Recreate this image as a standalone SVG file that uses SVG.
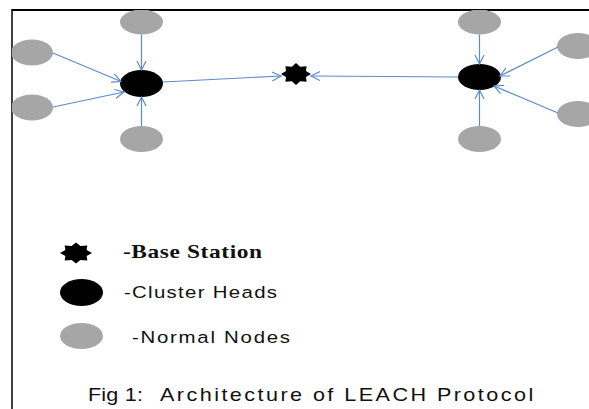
<svg xmlns="http://www.w3.org/2000/svg" xmlns:xlink="http://www.w3.org/1999/xlink" width="589" height="409" viewBox="0 0 589 409">
<style>
.normal{fill:#a6a6a6}
.head{fill:#000}
.edge{stroke:#5b8bcf;stroke-width:1.2;fill:none;marker-end:url(#arr)}
.serif{font-family:"Liberation Serif","Times New Roman",serif;font-weight:bold;font-size:18px;fill:#111}
.sans{font-family:"Liberation Sans",Arial,sans-serif;font-size:17px;fill:#111}
.cap{font-family:"Liberation Sans",Arial,sans-serif;font-size:18px;fill:#111}
</style>
<defs>
<marker id="arr" markerUnits="userSpaceOnUse" markerWidth="12" markerHeight="12" refX="9" refY="5" orient="auto" viewBox="0 0 12 10">
<path d="M0,0.5 L9,5 L0,9.5" fill="none" stroke="#5b8bcf" stroke-width="1.2"/>
</marker>
<polygon id="star" points="0,-1 0.2755,-0.6652 0.7071,-0.7071 0.6652,-0.2755 1,0 0.6652,0.2755 0.7071,0.7071 0.2755,0.6652 0,1 -0.2755,0.6652 -0.7071,0.7071 -0.6652,0.2755 -1,0 -0.6652,-0.2755 -0.7071,-0.7071 -0.2755,-0.6652"/>
<clipPath id="frame"><rect x="12" y="10" width="577" height="399"/></clipPath>
</defs>
<rect width="589" height="409" fill="#fff"/>
<g id="border" stroke="#000">
<line x1="12" y1="10" x2="589" y2="10" stroke-width="2"/>
<line x1="12" y1="9" x2="12" y2="409" stroke-width="1.5"/>
</g>
<g id="nodes" clip-path="url(#frame)">
<g id="n-left-top"><ellipse class="normal" cx="141.5" cy="22" rx="21.5" ry="12.5"/></g>
<g id="n-left-up"><ellipse class="normal" cx="32" cy="52.5" rx="21" ry="13"/></g>
<g id="n-left-low"><ellipse class="normal" cx="32" cy="107.5" rx="21" ry="13"/></g>
<g id="n-left-bottom"><ellipse class="normal" cx="141.5" cy="139" rx="21.5" ry="13"/></g>
<g id="ch-left"><ellipse class="head" cx="141.5" cy="83.5" rx="21.5" ry="13.5"/></g>
<g id="base-station"><use xlink:href="#star" transform="translate(296,74) scale(15,11)" fill="#000"/></g>
<g id="ch-right"><ellipse class="head" cx="479.5" cy="77" rx="21.5" ry="13"/></g>
<g id="n-right-top"><ellipse class="normal" cx="479.5" cy="22" rx="21.5" ry="12.5"/></g>
<g id="n-right-bottom"><ellipse class="normal" cx="479.5" cy="139" rx="21.5" ry="13"/></g>
<g id="n-right-up"><ellipse class="normal" cx="578" cy="46" rx="21" ry="13"/></g>
<g id="n-right-low"><ellipse class="normal" cx="578" cy="114" rx="21" ry="13"/></g>
</g>
<g id="connectors">
<line class="edge" x1="141.5" y1="34.5" x2="141.5" y2="70"/>
<line class="edge" x1="141.5" y1="126" x2="141.5" y2="97"/>
<line class="edge" x1="53" y1="53" x2="121" y2="81.5"/>
<line class="edge" x1="53" y1="107" x2="124" y2="92"/>
<line class="edge" x1="163" y1="82" x2="281" y2="76"/>
<line class="edge" x1="458" y1="77" x2="311" y2="76"/>
<line class="edge" x1="479.5" y1="34.5" x2="479.5" y2="64"/>
<line class="edge" x1="479.5" y1="126" x2="479.5" y2="90"/>
<line class="edge" x1="558" y1="47" x2="500" y2="76"/>
<line class="edge" x1="558" y1="113" x2="494" y2="86"/>
</g>
<g id="legend">
<use xlink:href="#star" transform="translate(76,253) scale(16,10.5)" fill="#000"/>
<ellipse class="head" cx="81.5" cy="292.5" rx="21.5" ry="13.5"/>
<ellipse class="normal" cx="81.5" cy="336" rx="21.5" ry="13"/>
<text class="serif" transform="translate(123,258) scale(1.3,1)" textLength="107" lengthAdjust="spacing">-Base Station</text>
<text class="sans" transform="translate(124,298) scale(1.2,1)" textLength="127.5" lengthAdjust="spacing">-Cluster Heads</text>
<text class="sans" transform="translate(132,343) scale(1.2,1)" textLength="131.7" lengthAdjust="spacing">-Normal Nodes</text>
</g>
<g id="caption">
<text class="cap" transform="translate(88,401) scale(1.2,1)" textLength="45.8" lengthAdjust="spacing">Fig 1:</text>
<text class="cap" transform="translate(160,401) scale(1.2,1)" textLength="311" lengthAdjust="spacing">Architecture of LEACH Protocol</text>
</g>
</svg>
